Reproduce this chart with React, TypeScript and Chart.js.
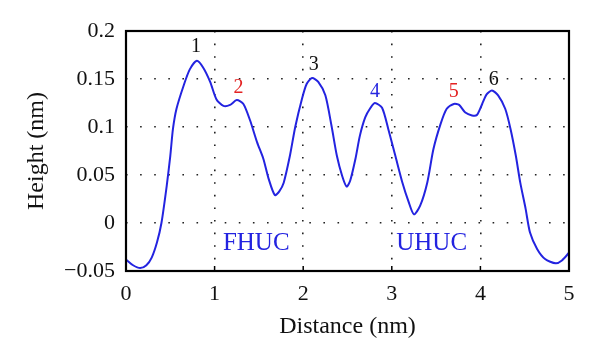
import React, { useEffect, useRef } from "react";
import { Chart, registerables } from "chart.js";

Chart.register(...registerables);

const distance = [
  0.0, 0.08, 0.16, 0.23, 0.29, 0.35, 0.4, 0.46, 0.5, 0.53, 0.57, 0.65, 0.72, 0.8, 0.87, 0.95,
  1.02, 1.1, 1.175, 1.25, 1.325, 1.4, 1.48, 1.55, 1.61, 1.68, 1.73, 1.78, 1.85, 1.91, 1.985,
  2.04, 2.1, 2.17, 2.25, 2.32, 2.38, 2.44, 2.49, 2.53, 2.59, 2.64, 2.7, 2.76, 2.81, 2.89, 2.96,
  3.04, 3.12, 3.19, 3.25, 3.32, 3.4, 3.47, 3.55, 3.62, 3.7, 3.76, 3.83, 3.905, 3.96, 4.02, 4.07,
  4.13, 4.2, 4.28, 4.34, 4.4, 4.45, 4.51, 4.56, 4.64, 4.73, 4.85, 4.92, 5.0,
];
const height = [
  -0.038, -0.044, -0.047, -0.044, -0.036, -0.02, 0.0, 0.039, 0.07, 0.098, 0.119, 0.143, 0.16, 0.169, 0.162, 0.147,
  0.129, 0.122, 0.123, 0.128, 0.124, 0.107, 0.084, 0.067, 0.046, 0.029, 0.033, 0.042, 0.07, 0.1, 0.129,
  0.145, 0.151, 0.147, 0.133, 0.101, 0.07, 0.049, 0.038, 0.044, 0.067, 0.091, 0.11, 0.12, 0.125, 0.12, 0.098,
  0.07, 0.042, 0.022, 0.009, 0.018, 0.042, 0.077, 0.103, 0.119, 0.124, 0.123, 0.115, 0.112, 0.1125, 0.124, 0.134,
  0.138, 0.133, 0.119, 0.098, 0.07, 0.042, 0.015, -0.01, -0.027, -0.0375, -0.042, -0.039, -0.031,
];

const xTickValues = [0, 1, 2, 3, 4, 5];
const xTickLabels = ["0", "1", "2", "3", "4", "5"];
const yTickValues = [-0.05, 0, 0.05, 0.1, 0.15, 0.2];
const yTickLabels = ["\u22120.05", "0", "0.05", "0.1", "0.15", "0.2"];

const peakLabels = ["1", "2", "3", "4", "5", "6"];
const peakX = [0.79, 1.27, 2.12, 2.81, 3.7, 4.15];
const peakY = [0.184, 0.141, 0.165, 0.137, 0.137, 0.149];
const peakColors = ["#111111", "#e32222", "#111111", "#2626e0", "#e32222", "#111111"];

const regionLabels = ["FHUC", "UHUC"];
const regionX = [1.47, 3.45];
const regionY = [-0.021, -0.021];

const FONT = "'Liberation Serif', 'DejaVu Serif', serif";
const BLUE = "#2323e0";

export default function App() {
  const ref = useRef<HTMLCanvasElement | null>(null);

  useEffect(() => {
    if (!ref.current) return;
    const annot = {
      id: "annot",
      afterDatasetsDraw(chart: any) {
        const { ctx, chartArea: a, scales } = chart;
        const xs = scales.x;
        const ys = scales.y;
        ctx.save();
        ctx.strokeStyle = "#000";
        ctx.lineWidth = 1.5;
        ctx.setLineDash([]);
        for (const v of xTickValues) {
          const px = xs.getPixelForValue(v);
          ctx.beginPath();
          ctx.moveTo(px, a.bottom);
          ctx.lineTo(px, a.bottom - 5);
          ctx.stroke();
        }
        ctx.lineWidth = 2.2;
        ctx.strokeRect(a.left, a.top, a.right - a.left, a.bottom - a.top);
        ctx.textAlign = "center";
        ctx.textBaseline = "middle";
        ctx.font = `20px ${FONT}`;
        peakLabels.forEach((t, i) => {
          ctx.fillStyle = peakColors[i];
          ctx.fillText(t, xs.getPixelForValue(peakX[i]), ys.getPixelForValue(peakY[i]));
        });
        ctx.font = `25px ${FONT}`;
        ctx.fillStyle = BLUE;
        regionLabels.forEach((t, i) => {
          ctx.fillText(t, xs.getPixelForValue(regionX[i]), ys.getPixelForValue(regionY[i]));
        });
        ctx.restore();
      },
    };

    const chart = new Chart(ref.current, {
      type: "line",
      data: {
        datasets: [
          {
            data: distance.map((d, i) => ({ x: d, y: height[i] })),
            borderColor: BLUE,
            borderWidth: 2,
            pointRadius: 0,
            tension: 0.25,
            fill: false,
          },
        ],
      },
      options: {
        animation: false,
        responsive: false,
        maintainAspectRatio: false,
        layout: { padding: { top: 31, right: 31, left: 0, bottom: 0 } },
        plugins: { legend: { display: false }, tooltip: { enabled: false } },
        scales: {
          x: {
            type: "linear",
            min: 0,
            max: 5,
            afterBuildTicks: (s: any) => {
              s.ticks = xTickValues.map((v) => ({ value: v }));
            },
            afterFit: (s: any) => {
              s.height = 90;
            },
            ticks: {
              padding: 10,
              color: "#111",
              font: { family: FONT, size: 22 },
              maxRotation: 0,
              callback: (v: any) => {
                const i = xTickValues.indexOf(Number(v));
                return i >= 0 ? xTickLabels[i] : "";
              },
            },
            grid: { color: "#222", lineWidth: 1.6, drawTicks: false },
            border: { display: false, dash: [1.6, 11] },
            title: {
              display: true,
              text: "Distance (nm)",
              color: "#111",
              font: { family: FONT, size: 24 },
              padding: { top: 0, bottom: 20 },
            },
          },
          y: {
            type: "linear",
            min: -0.05,
            max: 0.2,
            afterBuildTicks: (s: any) => {
              s.ticks = yTickValues.map((v) => ({ value: v }));
            },
            afterFit: (s: any) => {
              s.width = 126;
            },
            ticks: {
              padding: 11,
              color: "#111",
              font: { family: FONT, size: 22 },
              callback: (v: any) => {
                const i = yTickValues.findIndex((t) => Math.abs(t - Number(v)) < 1e-9);
                return i >= 0 ? yTickLabels[i] : "";
              },
            },
            grid: { color: "#222", lineWidth: 1.6, drawTicks: false },
            border: { display: false, dash: [1.6, 12.5] },
            title: {
              display: true,
              text: "Height (nm)",
              color: "#111",
              font: { family: FONT, size: 24 },
              padding: { top: 22, bottom: 0 },
            },
          },
        },
      },
      plugins: [annot],
    });
    return () => chart.destroy();
  }, []);

  return (
    <div style={{ position: "fixed", left: 0, top: 0, width: 600, height: 361, background: "#fff" }}>
      <canvas ref={ref} width={600} height={361} style={{ width: 600, height: 361 }} />
    </div>
  );
}
